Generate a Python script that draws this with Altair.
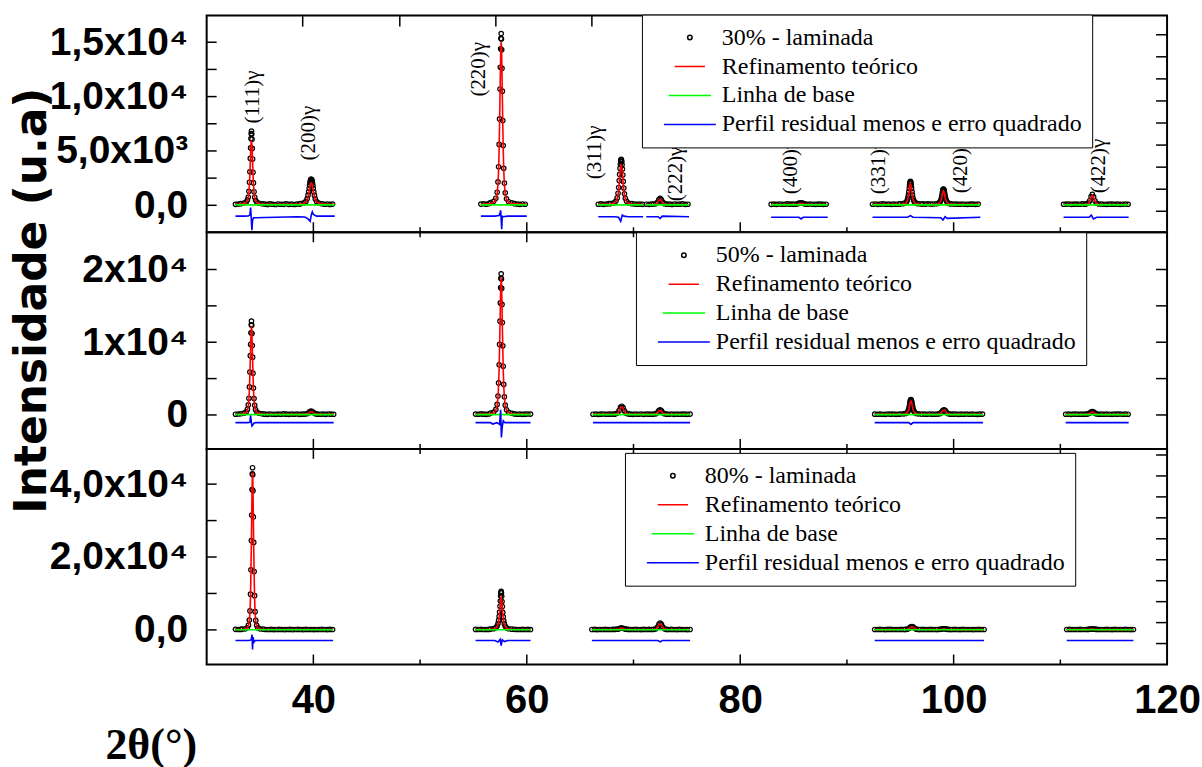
import altair as alt
import pandas as pd

# ---------------- layout ----------------
W = 962
HEIGHTS = [217, 217, 216]
X_DOMAIN = [30, 120]
X_LABEL_VALUES = [40, 60, 80, 100, 120]
X_TICK_MAJOR = [40, 60, 80, 100]
X_TICK_MINOR = [50, 70, 90, 110]

LINE_NAMES = ["Refinamento teórico", "Linha de base", "Perfil residual menos e erro quadrado"]
SERIES_COLORS = ["#000000", "#ff0000", "#00ff00", "#0000ff"]
SERIES_SHAPES = ["circle", "stroke", "stroke", "stroke"]
SERIES_SIZES = [20, 2704, 2704, 2704]

BIG_OFFSETS = [-1.0, -0.7, -0.5, -0.38, -0.3, -0.24, -0.19, -0.15, -0.11, -0.08, -0.05, -0.025, 0,
               0.025, 0.05, 0.08, 0.11, 0.15, 0.19, 0.24, 0.3, 0.38, 0.5, 0.7, 1.0]
SMALL_OFFSETS = [-0.6, -0.4, -0.25, -0.12, 0, 0.12, 0.25, 0.4, 0.6]
BASE_STEP = 0.25

# ---------------- 30% panel ----------------
P30_LABEL = "30% - laminada"
P30_SEGMENTS = [(32.7, 42.0), (55.7, 60.0), (66.7, 70.9), (71.2, 75.2), (82.9, 88.2), (92.4, 102.5), (110.3, 116.4)]
P30_BASE_STARTS = [32.7, 35.45, 41.05, 55.7, 58.85, 66.7, 70.1, 71.2, 73.35, 82.9, 86.55, 92.4, 97.1, 100.3, 110.3, 113.85]
P30_BASE_VALUES = [
    [90, 120],
    [110, 80, 130, 95, 70, 120, 100, 85, 140, 90, 105, 75, 115, 130],
    [95, 120, 80, 110],
    [110, 140, 95, 160],
    [150, 110, 90, 120, 100],
    [100, 130, 90, 120, 150],
    [120, 95, 110, 85],
    [100, 90, 115],
    [105, 80, 120, 95, 110, 130, 90, 100],
    [90, 110, 85, 120, 100, 95, 130, 105, 115],
    [120, 100, 90, 115, 105, 85, 100],
    [100, 120, 90, 110, 130, 95, 105, 85, 115, 100, 120],
    [130, 110, 140, 120],
    [110, 95, 120, 100, 85, 115, 105, 90, 110],
    [95, 110, 120, 90, 105, 115, 100, 125, 110],
    [120, 100, 90, 115, 105, 95, 110, 85, 100, 120, 95],
]
P30_PEAK_POS = [34.2, 39.8, 57.6, 68.85, 72.5, 85.7, 95.95, 99.05, 113.0]
P30_PEAK_KIND = ["big", "big", "big", "big", "small", "small", "big", "big", "small"]
P30_PEAK_OBS = [
    [150, 210, 290, 480, 760, 1290, 2120, 3080, 4310, 5280, 6140, 6590, 6820, 6550, 6080, 5230, 4260, 3040, 2060, 1250, 740, 460, 300, 190, 140],
    [150, 220, 360, 610, 930, 1250, 1570, 1850, 2080, 2240, 2330, 2380, 2400, 2370, 2320, 2220, 2060, 1840, 1560, 1230, 910, 590, 350, 210, 140],
    [240, 370, 650, 1200, 2150, 3550, 5600, 7950, 10700, 12700, 14400, 15350, 15800, 15300, 14300, 12600, 10500, 7800, 5500, 3400, 2050, 1150, 600, 330, 220],
    [160, 220, 390, 680, 1110, 1640, 2270, 2840, 3390, 3780, 4030, 4170, 4220, 4150, 4000, 3720, 3330, 2790, 2200, 1580, 1060, 650, 370, 210, 150],
    [120, 160, 280, 520, 640, 500, 270, 150, 110],
    [100, 120, 170, 210, 230, 200, 160, 120, 100],
    [130, 150, 200, 300, 450, 660, 930, 1230, 1570, 1820, 2030, 2140, 2200, 2130, 2010, 1830, 1560, 1240, 940, 670, 460, 310, 210, 150, 120],
    [120, 140, 180, 250, 350, 490, 670, 880, 1090, 1260, 1390, 1460, 1490, 1450, 1380, 1250, 1080, 870, 660, 480, 340, 240, 170, 130, 110],
    [130, 200, 420, 800, 1000, 780, 400, 190, 120],
]
P30_PEAK_CALC = [
    [110, 170, 260, 430, 700, 1180, 1930, 2850, 3900, 4820, 5520, 5850, 5950, 5820, 5480, 4760, 3830, 2800, 1890, 1150, 680, 420, 250, 160, 100],
    [120, 190, 310, 530, 800, 1080, 1360, 1600, 1800, 1930, 2010, 2050, 2060, 2040, 1990, 1910, 1770, 1580, 1340, 1060, 780, 510, 300, 180, 120],
    [150, 270, 540, 1060, 1960, 3310, 5270, 7500, 10080, 12000, 13700, 14650, 15050, 14600, 13650, 12000, 10000, 7450, 5200, 3250, 1950, 1050, 520, 260, 150],
    [110, 180, 320, 580, 960, 1420, 1980, 2500, 2970, 3300, 3530, 3650, 3700, 3640, 3500, 3260, 2920, 2450, 1940, 1390, 920, 560, 320, 170, 110],
    [80, 110, 220, 450, 560, 430, 210, 100, 80],
    [70, 80, 120, 160, 180, 150, 110, 80, 70],
    [90, 120, 170, 260, 400, 590, 840, 1110, 1420, 1650, 1840, 1940, 1980, 1930, 1830, 1660, 1410, 1110, 830, 590, 400, 270, 170, 110, 90],
    [80, 110, 150, 220, 310, 440, 600, 790, 980, 1130, 1240, 1300, 1320, 1290, 1230, 1120, 960, 770, 590, 430, 300, 210, 150, 110, 80],
    [90, 150, 360, 720, 900, 700, 350, 140, 90],
]
P30_CALC_ENDS = [(90, 90), (100, 100), (90, 90), (80, 80), (80, 80), (90, 90), (80, 80)]
P30_BASELINE = [40, 40, 40, 40, 40, 40, 40]
P30_RESID_X = [
    [32.7, 33.5, 33.9, 34.05, 34.12, 34.18, 34.24, 34.3, 34.4, 34.6, 35.5, 36.5, 37.5, 38.5, 39.2, 39.5, 39.7, 39.8, 39.9, 40.0, 40.3, 41.0, 42.0],
    [55.7, 57.0, 57.4, 57.5, 57.55, 57.6, 57.65, 57.7, 57.8, 58.2, 60.0],
    [66.7, 68.2, 68.6, 68.8, 68.95, 69.1, 69.5, 70.9],
    [71.2, 72.3, 72.5, 72.7, 75.2],
    [82.9, 85.5, 85.7, 85.9, 88.2],
    [92.4, 95.7, 95.95, 96.2, 98.8, 99.0, 99.2, 99.4, 102.5],
    [110.3, 112.7, 112.9, 113.1, 113.4, 116.4],
]
P30_RESID_Y = [
    [-1000, -1000, -980, -900, -200, -1200, -2300, -1400, -1150, -1150, -1120, -1100, -1080, -1050, -1080, -1250, -1470, -900, -600, -850, -1000, -1000, -1000],
    [-1000, -1000, -950, -700, -460, -1300, -2200, -1000, -1050, -1000, -1000],
    [-1050, -1050, -1100, -1470, -900, -1000, -1050, -1050],
    [-1050, -1050, -1200, -1000, -1050],
    [-1100, -1100, -1250, -1100, -1100],
    [-1100, -1100, -950, -1100, -1150, -1350, -1050, -1200, -1100],
    [-1100, -1100, -900, -1250, -1100, -1100],
]
P30_Y_DOMAIN = [-2480, 17450]
P30_YLABEL_VALUES = [0, 5000, 10000, 15000]
P30_YLABEL_TEXT = ["0,0", "5,0x10³", "1,0x10⁴", "1,5x10⁴"]
P30_YTICKS_LEFT = [0, 2500, 5000, 7500, 10000, 12500, 15000]
P30_YTICKS_RIGHT = [-550, 1480, 3510, 5540, 7570, 9600, 11630, 13660, 15690]
P30_TOP_TICKS = [39.0, 48.1, 57.1, 66.1, 74.9, 84.0, 92.8, 101.7, 110.5]
P30_LEGEND_XY = (436, -1)

ANN_TEXT = ["(111)γ", "(200)γ", "(220)γ", "(311)γ", "(222)γ", "(400)γ", "(331)γ", "(420)γ", "(422)γ"]
ANN_X = [34.3, 39.6, 55.5, 66.4, 74.0, 84.8, 93.0, 100.7, 113.6]
ANN_Y = [7520, 4130, 10000, 2390, 370, 1010, 1010, 1100, 1100]

# ---------------- 50% panel ----------------
P50_LABEL = "50% - laminada"
P50_SEGMENTS = [(32.7, 41.9), (55.2, 60.35), (66.2, 75.3), (92.6, 102.75), (110.5, 116.4)]
P50_BASE_STARTS = [32.7, 35.45, 40.65, 55.2, 58.85, 66.2, 69.7, 73.3, 92.6, 97.25, 99.95, 110.5, 113.85]
P50_BASE_VALUES = [
    [100, 130],
    [110, 90, 130, 100, 85, 120, 95, 140, 105, 80, 115, 100, 125, 90, 110],
    [100, 120, 90, 130, 105, 95],
    [120, 100, 140, 110, 90, 130],
    [140, 100, 120, 90, 110, 130, 115],
    [100, 120, 90, 110, 130, 95, 105, 115, 100],
    [110, 90, 120, 100, 130, 85, 115, 105, 95],
    [100, 125, 90, 110, 95, 120, 105, 90, 115],
    [110, 95, 120, 100, 90, 130, 105, 115, 85, 100],
    [120, 100, 130, 110, 95],
    [105, 120, 90, 110, 100, 125, 95, 115, 100, 90, 110, 120],
    [100, 115, 90, 120, 105, 95, 110, 100],
    [110, 95, 120, 100, 90, 115, 105, 125, 95, 110, 100],
]
P50_PEAK_POS = [34.2, 39.8, 57.6, 68.9, 72.5, 96.0, 99.1, 113.0]
P50_PEAK_KIND = ["big", "small", "big", "small", "small", "big", "small", "small"]
P50_PEAK_OBS = [
    [160, 240, 420, 760, 1380, 2300, 3850, 5900, 8150, 9700, 11300, 12400, 12900, 12350, 11200, 9550, 7950, 5750, 3700, 2250, 1330, 730, 400, 230, 150],
    [120, 160, 300, 460, 520, 440, 290, 150, 110],
    [250, 400, 760, 1450, 2600, 4400, 6900, 9700, 12900, 15400, 17500, 18800, 19400, 18700, 17400, 15200, 12700, 9500, 6700, 4200, 2500, 1350, 700, 370, 230],
    [150, 260, 600, 1050, 1200, 1000, 560, 240, 140],
    [120, 170, 320, 600, 700, 560, 300, 160, 110],
    [130, 150, 200, 300, 440, 640, 900, 1200, 1520, 1760, 1960, 2070, 2120, 2060, 1940, 1770, 1510, 1200, 900, 650, 450, 300, 200, 150, 120],
    [120, 180, 350, 600, 720, 590, 330, 160, 110],
    [110, 150, 250, 400, 460, 390, 240, 140, 100],
]
P50_PEAK_CALC = [
    [110, 180, 350, 680, 1250, 2150, 3600, 5500, 7600, 9150, 10700, 11750, 12200, 11700, 10650, 9050, 7450, 5350, 3450, 2100, 1230, 660, 340, 180, 110],
    [80, 120, 250, 400, 450, 380, 240, 110, 80],
    [160, 300, 650, 1310, 2400, 4150, 6550, 9250, 12400, 14850, 16900, 18250, 18860, 18150, 16850, 14700, 12250, 9100, 6400, 4000, 2350, 1250, 620, 290, 160],
    [100, 200, 530, 960, 1110, 920, 500, 190, 100],
    [80, 130, 260, 520, 620, 490, 250, 120, 80],
    [90, 120, 170, 260, 390, 580, 820, 1090, 1390, 1610, 1790, 1890, 1930, 1880, 1780, 1610, 1370, 1080, 800, 580, 390, 260, 170, 110, 90],
    [80, 140, 290, 530, 640, 520, 280, 120, 80],
    [70, 110, 200, 340, 400, 330, 190, 100, 70],
]
P50_CALC_ENDS = [(90, 90), (100, 100), (90, 90), (90, 90), (80, 80)]
P50_BASELINE = [40, 40, 40, 40, 40]
P50_RESID_X = [
    [32.7, 33.9, 34.05, 34.12, 34.18, 34.24, 34.3, 34.45, 34.6, 41.9],
    [55.2, 56.6, 56.8, 57.2, 57.45, 57.55, 57.62, 57.7, 57.8, 57.95, 60.35],
    [66.2, 75.3],
    [92.6, 95.8, 96.0, 96.2, 102.75],
    [110.5, 116.4],
]
P50_RESID_Y = [
    [-1060, -1060, -1000, -100, -900, -1500, -1400, -1100, -1060, -1060],
    [-1060, -1060, -1250, -1060, -1300, 700, -3100, -1600, -800, -1060, -1060],
    [-1060, -1060],
    [-1060, -1060, -1300, -1060, -1060],
    [-1060, -1060],
]
P50_Y_DOMAIN = [-4667, 25120]
P50_YLABEL_VALUES = [0, 10000, 20000]
P50_YLABEL_TEXT = ["0", "1x10⁴", "2x10⁴"]
P50_YTICKS_LEFT = [0, 5000, 10000, 15000, 20000]
P50_YTICKS_RIGHT = [0, 5000, 10000, 15000, 20000]
P50_LEGEND_XY = (430, 0)

# ---------------- 80% panel ----------------
P80_LABEL = "80% - laminada"
P80_SEGMENTS = [(32.7, 41.85), (55.2, 60.35), (66.1, 75.3), (92.6, 102.85), (110.6, 116.85)]
P80_BASE_STARTS = [32.7, 35.55, 55.2, 58.85, 66.1, 69.7, 73.3, 92.6, 96.85, 99.85, 110.6, 113.85]
P80_BASE_VALUES = [
    [150, 110, 130],
    [120, 100, 140, 90, 110, 130, 100, 85, 120, 140, 95, 110, 125, 100, 90, 130, 115, 105, 95, 120, 100, 135, 110, 90, 125, 105],
    [130, 110, 150, 100, 120, 140],
    [150, 120, 100, 130, 110, 140, 100],
    [110, 130, 95, 120, 105, 140, 100, 115, 125],
    [120, 100, 135, 110, 95, 125, 105, 140, 115],
    [100, 130, 110, 95, 125, 105, 120, 90, 110],
    [120, 100, 130, 110, 95, 125, 140, 105, 115, 100, 130, 110],
    [115, 130, 100, 120, 140, 105, 110],
    [100, 125, 110, 95, 130, 105, 120, 115, 90, 110, 135, 100, 120],
    [110, 130, 100, 120, 105, 125, 115],
    [120, 100, 130, 110, 95, 125, 105, 115, 100, 130, 110, 95, 120],
]
P80_PEAK_POS = [34.3, 57.6, 68.9, 72.5, 96.1, 99.1, 113.0]
P80_PEAK_KIND = ["big", "big", "small", "small", "small", "small", "small"]
P80_PEAK_OBS = [
    [200, 300, 600, 1300, 2700, 5200, 9800, 16500, 24500, 31500, 38500, 42800, 44500, 42600, 38200, 31000, 24000, 16000, 9400, 5000, 2600, 1250, 560, 290, 190],
    [220, 330, 600, 1050, 1700, 2600, 3700, 4900, 6500, 7900, 9300, 10200, 10580, 10150, 9200, 7800, 6400, 4800, 3600, 2500, 1650, 1000, 570, 310, 200],
    [150, 200, 320, 470, 520, 450, 300, 190, 140],
    [150, 300, 800, 1550, 1850, 1500, 750, 280, 140],
    [130, 220, 480, 820, 920, 780, 450, 200, 120],
    [120, 150, 220, 290, 320, 280, 210, 140, 110],
    [110, 140, 200, 250, 270, 240, 190, 130, 100],
]
P80_PEAK_CALC = [
    [120, 200, 480, 1150, 2450, 4800, 9200, 15700, 23500, 30300, 37200, 41500, 43200, 41300, 36900, 29800, 23000, 15200, 8900, 4700, 2400, 1100, 450, 190, 120],
    [150, 260, 510, 930, 1520, 2350, 3350, 4450, 5850, 7050, 8100, 8700, 8930, 8650, 8000, 6950, 5750, 4350, 3250, 2250, 1480, 890, 480, 240, 150],
    [100, 150, 270, 410, 460, 390, 250, 140, 100],
    [100, 240, 700, 1420, 1700, 1380, 660, 220, 100],
    [90, 170, 410, 740, 840, 700, 390, 150, 90],
    [80, 110, 170, 240, 270, 230, 160, 100, 80],
    [70, 100, 150, 200, 220, 190, 140, 90, 70],
]
P80_CALC_ENDS = [(90, 90), (100, 100), (90, 90), (80, 80), (80, 80)]
P80_BASELINE = [40, 40, 40, 40, 40]
P80_RESID_X = [
    [32.7, 34.0, 34.18, 34.25, 34.3, 34.35, 34.42, 34.55, 41.85],
    [55.2, 57.0, 57.3, 57.5, 57.6, 57.7, 57.9, 58.2, 60.35],
    [66.1, 72.3, 72.5, 72.7, 75.3],
    [92.6, 102.85],
    [110.6, 116.85],
]
P80_RESID_Y = [
    [-2930, -2930, -2700, -1300, -5400, -2000, -3400, -2930, -2930],
    [-2930, -2930, -3300, -2600, -4300, -2700, -3200, -2930, -2930],
    [-2930, -2930, -3300, -2930, -2930],
    [-2930, -2930],
    [-2930, -2930],
]
P80_Y_DOMAIN = [-9506, 49672]
P80_YLABEL_VALUES = [0, 20000, 40000]
P80_YLABEL_TEXT = ["0,0", "2,0x10⁴", "4,0x10⁴"]
P80_YTICKS_LEFT = [0, 10000, 20000, 30000, 40000]
P80_YTICKS_RIGHT = [-3750, 2000, 7750, 13500, 19250, 25000, 30750, 36500, 42250, 48000]
P80_LEGEND_XY = (419, 4)


def label_expr(vals, texts):
    expr = "'" + texts[-1] + "'"
    for v, t in reversed(list(zip(vals[:-1], texts[:-1]))):
        expr = f"datum.value == {v} ? '{t}' : {expr}"
    return expr


def make_panel(idx, label, segments, base_starts, base_values, peak_pos, peak_kind,
               peak_obs, peak_calc, calc_ends, baseline, resid_x, resid_y, y_domain,
               yl_vals, yl_text, yt_left, yt_right, top_ticks, legend_xy,
               show_x, show_ytitle, ann=None):
    H = HEIGHTS[idx]
    names = [label] + LINE_NAMES

    def seg_of(x):
        for i, (a, b) in enumerate(segments):
            if a - 0.01 <= x <= b + 0.01:
                return i
        return -1

    obs_rows, line_rows = [], []
    for s, vals in zip(base_starts, base_values, strict=True):
        for i, v in enumerate(vals):
            obs_rows.append({"x": round(s + BASE_STEP * i, 3), "y": v})
    for c, k, o, cl in zip(peak_pos, peak_kind, peak_obs, peak_calc, strict=True):
        offs = BIG_OFFSETS if k == "big" else SMALL_OFFSETS
        sg = seg_of(c)
        for d, ov, cv in zip(offs, o, cl, strict=True):
            obs_rows.append({"x": round(c + d, 3), "y": ov})
            line_rows.append({"x": round(c + d, 3), "y": cv, "series": LINE_NAMES[0], "seg": sg})
    for i, ((a, b), (ca, cb), bl, rx, ry) in enumerate(
            zip(segments, calc_ends, baseline, resid_x, resid_y, strict=True)):
        line_rows += [{"x": a, "y": ca, "series": LINE_NAMES[0], "seg": i},
                      {"x": b, "y": cb, "series": LINE_NAMES[0], "seg": i},
                      {"x": a, "y": bl, "series": LINE_NAMES[1], "seg": i},
                      {"x": b, "y": bl, "series": LINE_NAMES[1], "seg": i}]
        for xx, yy in zip(rx, ry, strict=True):
            line_rows.append({"x": xx, "y": yy, "series": LINE_NAMES[2], "seg": i})
    obs_df = pd.DataFrame(obs_rows)
    obs_df["series"] = label
    line_df = pd.DataFrame(line_rows)

    xscale = alt.Scale(domain=X_DOMAIN, nice=False, zero=False)
    yscale = alt.Scale(domain=y_domain, nice=False, zero=False)

    if show_x:
        xaxis = alt.Axis(values=X_LABEL_VALUES, ticks=False, domain=False, grid=False,
                         labelFont="Liberation Sans", labelFontSize=40, labelFontWeight="bold",
                         labelColor="black", labelPadding=16, labelFlush=False, labelOverlap=False,
                         title="2θ(°)", titleFont="Liberation Serif", titleFontSize=44,
                         titleFontWeight="bold", titleColor="black", titleX=-56, titleY=81,
                         titleAlign="center", titleBaseline="middle", titleAngle=0)
    else:
        xaxis = None

    ykw = dict(values=yl_vals, labelExpr=label_expr(yl_vals, yl_text), ticks=False, domain=False,
               grid=False, labelFont="Liberation Sans", labelFontSize=39, labelFontWeight="bold",
               labelColor="black", labelPadding=19, labelOverlap=False, labelFlush=False)
    if show_ytitle:
        yaxis = alt.Axis(title="Intensidade (u.a)", titleFont="DejaVu Sans", titleFontSize=44,
                         titleFontWeight="bold", titleColor="black", titleX=-174, titleY=68,
                         titleAlign="center", titleBaseline="middle", titleAngle=270, **ykw)
    else:
        yaxis = alt.Axis(title=None, **ykw)

    X = alt.X("x:Q", scale=xscale, axis=xaxis)
    Y = alt.Y("y:Q", scale=yscale, axis=yaxis)

    leg = alt.Legend(orient="none", legendX=legend_xy[0], legendY=legend_xy[1], title=None,
                     labelFont="Liberation Serif", labelFontSize=24, labelColor="black",
                     labelLimit=600, padding=10, rowPadding=3, clipHeight=26, symbolOffset=11,
                     labelOffset=5, symbolStrokeWidth=1.5, strokeColor="black", fillColor="white")
    color = alt.Color("series:N", scale=alt.Scale(domain=names, range=SERIES_COLORS), legend=leg)

    pts = alt.Chart(obs_df).mark_point(filled=False, strokeWidth=1.2, opacity=1).encode(
        x=X, y=Y, color=color,
        shape=alt.Shape("series:N", scale=alt.Scale(domain=names, range=SERIES_SHAPES), legend=leg),
        size=alt.Size("series:N", scale=alt.Scale(domain=names, range=SERIES_SIZES), legend=leg),
    )
    lines = alt.Chart(line_df).mark_line(strokeWidth=1.6).encode(
        x=X, y=Y, color=color, detail="seg:N")

    def xrule(vals, y0, y1):
        return alt.Chart(pd.DataFrame({"x": vals})).mark_rule(color="black", strokeWidth=1.5).encode(
            x=X, y=alt.value(y0), y2=alt.value(y1))

    def yrule(vals, x0, x1):
        return alt.Chart(pd.DataFrame({"y": vals})).mark_rule(color="black", strokeWidth=1.5).encode(
            y=Y, x=alt.value(x0), x2=alt.value(x1))

    rules = [xrule(X_TICK_MAJOR, H, H - 10), xrule(X_TICK_MINOR, H, H - 5),
             yrule(yt_left, 0, 10), yrule(yt_right, W, W - 11)]
    if top_ticks is not None:
        rules.append(xrule(top_ticks, 0, 11))
    else:
        rules += [xrule(X_TICK_MAJOR, 0, 10), xrule(X_TICK_MINOR, 0, 5)]

    layers = [pts, lines] + rules
    if ann is not None:
        ann_df = pd.DataFrame({"x": ann[0], "y": ann[1], "t": ann[2]})
        layers.append(alt.Chart(ann_df).mark_text(
            angle=270, align="left", baseline="middle", font="Liberation Serif",
            fontSize=21, color="black").encode(x=X, y=Y, text="t:N"))
    return alt.layer(*layers).properties(width=W, height=H)


p1 = make_panel(0, P30_LABEL, P30_SEGMENTS, P30_BASE_STARTS, P30_BASE_VALUES, P30_PEAK_POS,
                P30_PEAK_KIND, P30_PEAK_OBS, P30_PEAK_CALC, P30_CALC_ENDS, P30_BASELINE,
                P30_RESID_X, P30_RESID_Y, P30_Y_DOMAIN, P30_YLABEL_VALUES, P30_YLABEL_TEXT,
                P30_YTICKS_LEFT, P30_YTICKS_RIGHT, P30_TOP_TICKS, P30_LEGEND_XY,
                show_x=False, show_ytitle=False, ann=(ANN_X, ANN_Y, ANN_TEXT))
p2 = make_panel(1, P50_LABEL, P50_SEGMENTS, P50_BASE_STARTS, P50_BASE_VALUES, P50_PEAK_POS,
                P50_PEAK_KIND, P50_PEAK_OBS, P50_PEAK_CALC, P50_CALC_ENDS, P50_BASELINE,
                P50_RESID_X, P50_RESID_Y, P50_Y_DOMAIN, P50_YLABEL_VALUES, P50_YLABEL_TEXT,
                P50_YTICKS_LEFT, P50_YTICKS_RIGHT, None, P50_LEGEND_XY,
                show_x=False, show_ytitle=True)
p3 = make_panel(2, P80_LABEL, P80_SEGMENTS, P80_BASE_STARTS, P80_BASE_VALUES, P80_PEAK_POS,
                P80_PEAK_KIND, P80_PEAK_OBS, P80_PEAK_CALC, P80_CALC_ENDS, P80_BASELINE,
                P80_RESID_X, P80_RESID_Y, P80_Y_DOMAIN, P80_YLABEL_VALUES, P80_YLABEL_TEXT,
                P80_YTICKS_LEFT, P80_YTICKS_RIGHT, None, P80_LEGEND_XY,
                show_x=True, show_ytitle=False)

chart = (
    alt.vconcat(p1, p2, p3, spacing=0, bounds="flush")
    .resolve_scale(y="independent", color="independent", shape="independent", size="independent")
    .resolve_legend(color="independent", shape="independent", size="independent")
    .configure_view(stroke="black", strokeWidth=2)
    .properties(padding={"left": 9, "top": 12, "right": 0, "bottom": 0}, background="white")
)

chart.save("out.html", embed_options={"renderer": "svg", "actions": False})
